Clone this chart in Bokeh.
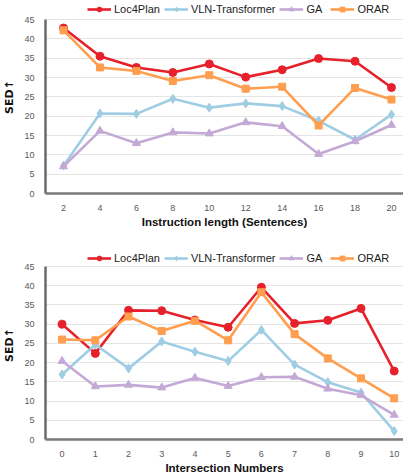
from bokeh.plotting import figure
from bokeh.layouts import column
from bokeh.models import Legend, LegendItem, FixedTicker, Range1d
from bokeh.embed import file_html
from bokeh.resources import INLINE

# Top chart: instruction length
len_x = [2, 4, 6, 8, 10, 12, 14, 16, 18, 20]
len_loc4plan = [42.8, 35.5, 32.6, 31.3, 33.5, 30.1, 32.0, 34.9, 34.2, 27.4]
len_vln = [7.2, 20.7, 20.6, 24.5, 22.2, 23.3, 22.6, 18.8, 13.9, 20.4]
len_ga = [7.0, 16.2, 13.0, 15.8, 15.5, 18.4, 17.4, 10.2, 13.5, 17.7]
len_orar = [42.2, 32.6, 31.7, 29.1, 30.6, 27.1, 27.6, 17.6, 27.3, 24.3]

# Bottom chart: intersection numbers
int_x = [0, 1, 2, 3, 4, 5, 6, 7, 8, 9, 10]
int_loc4plan = [30.0, 22.4, 33.6, 33.5, 31.1, 29.2, 39.6, 30.2, 31.0, 34.1, 17.8]
int_vln = [16.9, 24.7, 18.5, 25.5, 22.8, 20.4, 28.5, 19.5, 14.9, 12.2, 2.2]
int_ga = [20.4, 13.8, 14.2, 13.5, 16.0, 13.9, 16.2, 16.3, 13.2, 11.5, 6.4]
int_orar = [26.0, 25.8, 32.0, 28.2, 30.9, 25.8, 38.3, 27.4, 21.1, 15.9, 10.7]

y_ticks = [0, 5, 10, 15, 20, 25, 30, 35, 40, 45]
series_names = ["Loc4Plan", "VLN-Transformer", "GA", "ORAR"]

C_RED = "#E6212B"
C_BLUE = "#9FCDE3"
C_PURPLE = "#C4A9D6"
C_ORANGE = "#FF9E4F"

Y_MAX = 45


def make_chart(xs, ys_list, x_title, x_range, x_ticks, plot_px, legend_px, legend_bottom):
    # plot_px: pixel height of 0..45 ; legend_px: extra room above for the legend
    fh = plot_px + legend_px
    y_top = Y_MAX * fh / plot_px
    p = figure(frame_width=358, frame_height=fh, output_backend="svg",
               toolbar_location=None, x_range=x_range, y_range=Range1d(0, y_top),
               min_border_left=42, min_border_right=0, min_border_top=0,
               min_border_bottom=0)
    p.outline_line_color = None
    p.background_fill_color = "white"
    p.border_fill_color = "white"

    loc, vln, ga, orar = ys_list
    lw = 2.6
    r1 = p.line(xs, loc, color=C_RED, line_width=lw)
    m1 = p.scatter(xs, loc, marker="circle", size=8, color=C_RED)
    r2 = p.line(xs, vln, color=C_BLUE, line_width=lw)
    m2 = p.scatter(xs, vln, marker="diamond", size=9, color=C_BLUE)
    r3 = p.line(xs, ga, color=C_PURPLE, line_width=lw)
    m3 = p.scatter(xs, ga, marker="triangle", size=8, color=C_PURPLE)
    r4 = p.line(xs, orar, color=C_ORANGE, line_width=lw)
    m4 = p.scatter(xs, orar, marker="square", size=7, color=C_ORANGE)

    items = [LegendItem(label=series_names[0], renderers=[r1, m1]),
             LegendItem(label=series_names[1], renderers=[r2, m2]),
             LegendItem(label=series_names[2], renderers=[r3, m3]),
             LegendItem(label=series_names[3], renderers=[r4, m4])]
    legend = Legend(items=items, orientation="horizontal",
                    location=(42, fh - legend_bottom),
                    glyph_width=24, glyph_height=12, label_standoff=3, spacing=4,
                    padding=0, margin=0, border_line_color=None,
                    background_fill_alpha=0,
                    label_text_font="Liberation Sans", label_text_font_size="11px",
                    label_text_color="#222222", label_height=12)
    p.add_layout(legend)

    p.xaxis.ticker = FixedTicker(ticks=x_ticks)
    p.yaxis.ticker = FixedTicker(ticks=y_ticks)
    p.yaxis.bounds = (0, Y_MAX)
    for ax in (p.xaxis[0], p.yaxis[0]):
        ax.major_tick_line_color = None
        ax.minor_tick_line_color = None
        ax.major_label_text_font = "Liberation Sans"
        ax.major_label_text_font_size = "9px"
        ax.major_label_text_color = "#595959"
        ax.axis_label_text_font = "Liberation Sans"
        ax.axis_label_text_font_style = "bold"
        ax.axis_label_text_font_size = "11.5px"
        ax.axis_label_text_color = "#111111"
    p.xaxis.axis_line_color = "#7a7a7a"
    p.xaxis.axis_line_width = 2.5
    p.yaxis.axis_line_color = "#6a6a6a"
    p.yaxis.axis_line_width = 2.5
    p.xaxis.major_label_standoff = 5
    p.yaxis.major_label_standoff = 5
    p.xaxis.axis_label = x_title
    p.xaxis.axis_label_standoff = 2
    p.yaxis.axis_label = "SED\u2191"
    p.yaxis.axis_label_text_font = "DejaVu Sans"
    p.yaxis.axis_label_text_font_size = "11px"
    p.yaxis.axis_label_standoff = 5

    p.xgrid.grid_line_color = None
    p.ygrid.grid_line_color = "#e4e4e4"
    p.ygrid.grid_line_width = 1
    p.ygrid.ticker = FixedTicker(ticks=y_ticks)
    return p


p1 = make_chart(len_x, [len_loc4plan, len_vln, len_ga, len_orar],
                "Instruction length (Sentences)", Range1d(1.01, 20.66), len_x,
                174, 19, 15)
p2 = make_chart(int_x, [int_loc4plan, int_vln, int_ga, int_orar],
                "Intersection Numbers", Range1d(-0.5, 10.28), int_x,
                173, 16, 14)

layout = column(p1, p2, spacing=20)
open("out.html", "w").write(file_html(layout, INLINE))
